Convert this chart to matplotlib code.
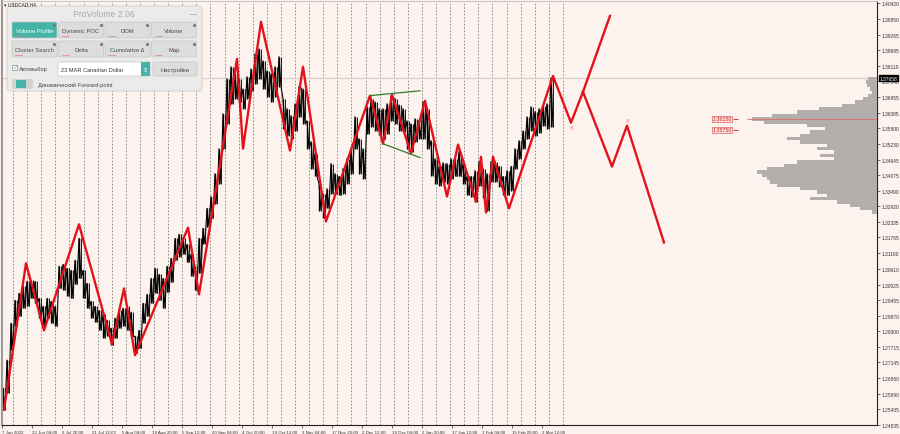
import numpy as np
import matplotlib.pyplot as plt
from matplotlib.patches import FancyBboxPatch
import matplotlib.transforms as mtransforms

plt.rcParams['font.family'] = ['Liberation Sans', 'DejaVu Sans']

# --------------------
# data (USDCAD H4)
# --------------------
price_ticks = [1.40420, 1.39850, 1.39265, 1.38695, 1.38110, 1.37540, 1.36955,
               1.36385, 1.35800, 1.35230, 1.34645, 1.34075, 1.33490, 1.32920,
               1.32335, 1.31765, 1.31180, 1.30610, 1.30025, 1.29455, 1.28870,
               1.28300, 1.27715, 1.27145, 1.26560, 1.25990, 1.25405, 1.24835]

date_labels = ["7 Jun 2022", "22 Jun 04:00", "6 Jul 20:00", "21 Jul 12:00",
               "5 Aug 04:00", "19 Aug 20:00", "5 Sep 12:00", "20 Sep 04:00",
               "4 Oct 20:00", "19 Oct 12:00", "3 Nov 04:00", "17 Nov 20:00",
               "2 Dec 12:00", "19 Dec 04:00", "2 Jan 20:00", "17 Jan 12:00",
               "1 Feb 04:00", "15 Feb 20:00", "2 Mar 12:00"]

bar_hi = [1.2619, 1.2723, 1.2859, 1.2944, 1.2970, 1.2996, 1.3014, 1.3018, 1.3014, 1.2951,
          1.2922, 1.2951, 1.2940, 1.2922, 1.3070, 1.3077, 1.3062, 1.3055, 1.3092, 1.3173,
          1.3055, 1.3007, 1.2940, 1.2922, 1.2907, 1.2892, 1.2870, 1.2841, 1.2878, 1.2907,
          1.2915, 1.2922, 1.2900, 1.2811, 1.2833, 1.2933, 1.2966, 1.3025, 1.3062, 1.3040,
          1.3025, 1.3070, 1.3099, 1.3173, 1.3188, 1.3173, 1.3151, 1.3114, 1.3070, 1.3173,
          1.3210, 1.3284, 1.3328, 1.3413, 1.3505, 1.3634, 1.3763, 1.3808, 1.3782, 1.3763,
          1.3726, 1.3771, 1.3800, 1.3856, 1.3874, 1.3830, 1.3793, 1.3782, 1.3808, 1.3845,
          1.3690, 1.3653, 1.3627, 1.3671, 1.3734, 1.3726, 1.3608, 1.3531, 1.3487, 1.3376,
          1.3339, 1.3357, 1.3450, 1.3413, 1.3402, 1.3431, 1.3468, 1.3505, 1.3623, 1.3542,
          1.3505, 1.3660, 1.3690, 1.3678, 1.3653, 1.3653, 1.3671, 1.3701, 1.3690, 1.3667,
          1.3653, 1.3608, 1.3597, 1.3616, 1.3608, 1.3678, 1.3653, 1.3535, 1.3468, 1.3439,
          1.3453, 1.3450, 1.3468, 1.3468, 1.3494, 1.3450, 1.3402, 1.3402, 1.3424, 1.3457,
          1.3431, 1.3413, 1.3457, 1.3457, 1.3439, 1.3402, 1.3424, 1.3439, 1.3505, 1.3535,
          1.3571, 1.3623, 1.3660, 1.3642, 1.3653, 1.3664, 1.3671, 1.3766]

bar_lo = [1.2538, 1.2601, 1.2760, 1.2848, 1.2885, 1.2915, 1.2922, 1.2951, 1.2933, 1.2878,
          1.2848, 1.2878, 1.2859, 1.2848, 1.2988, 1.2981, 1.2959, 1.2951, 1.3003, 1.3025,
          1.2951, 1.2915, 1.2878, 1.2863, 1.2833, 1.2804, 1.2811, 1.2778, 1.2804, 1.2841,
          1.2848, 1.2833, 1.2811, 1.2749, 1.2767, 1.2859, 1.2885, 1.2933, 1.2970, 1.2944,
          1.2915, 1.2974, 1.3011, 1.3092, 1.3106, 1.3114, 1.3084, 1.3033, 1.2981, 1.3044,
          1.3154, 1.3217, 1.3247, 1.3302, 1.3376, 1.3505, 1.3597, 1.3671, 1.3690, 1.3678,
          1.3653, 1.3690, 1.3719, 1.3745, 1.3763, 1.3726, 1.3697, 1.3678, 1.3697, 1.3734,
          1.3579, 1.3553, 1.3542, 1.3571, 1.3623, 1.3597, 1.3505, 1.3431, 1.3402, 1.3276,
          1.3247, 1.3284, 1.3339, 1.3339, 1.3332, 1.3339, 1.3376, 1.3413, 1.3505, 1.3413,
          1.3394, 1.3560, 1.3586, 1.3571, 1.3557, 1.3542, 1.3560, 1.3608, 1.3597, 1.3571,
          1.3568, 1.3505, 1.3494, 1.3531, 1.3542, 1.3542, 1.3505, 1.3405, 1.3376, 1.3368,
          1.3383, 1.3376, 1.3394, 1.3402, 1.3402, 1.3376, 1.3332, 1.3328, 1.3309, 1.3368,
          1.3321, 1.3276, 1.3383, 1.3383, 1.3365, 1.3332, 1.3332, 1.3350, 1.3431, 1.3468,
          1.3505, 1.3542, 1.3571, 1.3553, 1.3564, 1.3590, 1.3579, 1.3586]

# zigzag pivots (bar position, price)
zz_x = [2, 24, 42, 77, 110, 122, 133, 186, 197, 235, 241, 259, 288, 301, 324,
        368, 381, 390, 409, 423, 445, 456, 474, 479, 484, 491, 507, 551, 569, 581]
zz_p = [1.2540, 1.3081, 1.2833, 1.3225, 1.2782, 1.2988, 1.2741, 1.3213, 1.2966,
        1.3837, 1.3505, 1.3974, 1.3498, 1.3808, 1.3236, 1.3701, 1.3523, 1.3704,
        1.3487, 1.3682, 1.3328, 1.3520, 1.3309, 1.3475, 1.3269, 1.3475, 1.3284,
        1.3774, 1.3601, 1.3715]

# forecast branches
up_x = [581, 608]
up_p = [1.3715, 1.3996]
down_x = [581, 610, 625, 662]
down_p = [1.3715, 1.3439, 1.3590, 1.3158]

# green wedge
wedge_top_x = [368, 418]
wedge_top_p = [1.3701, 1.3719]
wedge_bot_x = [381, 418]
wedge_bot_p = [1.3523, 1.3472]

# volume profile
profile_levels = [1.3763, 1.3751, 1.3738, 1.3726, 1.3714, 1.3702, 1.3689, 1.3677,
                  1.3665, 1.3652, 1.3640, 1.3628, 1.3615, 1.3603, 1.3591, 1.3578,
                  1.3566, 1.3554, 1.3542, 1.3529, 1.3517, 1.3505, 1.3492, 1.3480,
                  1.3468, 1.3455, 1.3443, 1.3431, 1.3419, 1.3406, 1.3394, 1.3382,
                  1.3369, 1.3357, 1.3345, 1.3332, 1.3320, 1.3308, 1.3295, 1.3283, 1.3271]
profile_volume = [9, 11, 10, 7, 5, 9, 14, 22, 35, 58, 80, 105, 125, 113, 70, 52,
                  67, 77, 90, 77, 50, 60, 43, 57, 43, 80, 93, 110, 120, 115, 110,
                  107, 100, 77, 60, 50, 67, 40, 27, 17, 5]

poc_price = 1.36150
va_price = 1.35750
last_price = 1.37658

bg = '#fdf3ee'
red = '#e3121b'

# --------------------
# chart
# --------------------
fig = plt.figure(figsize=(9, 4.35), dpi=100, facecolor=bg)
ax = fig.add_axes([2/900, 9/435, 875/900, 424/435])
ax.set_facecolor(bg)
ax.set_xlim(0, 875)
ax.set_ylim(1.2483, 1.4051)

bar_x = np.arange(1, 550, 4)

# week separators
for wx in np.linspace(11, 561, 40):
    ax.axvline(wx, color='#7c7c7c', lw=0.6, ls=(0, (2, 2)), zorder=1)

ax.axhline(last_price, color='#d9cfca', lw=0.9, zorder=1)

# price bars: saw line between high and low of each bar + the bars themselves
saw_x = np.column_stack([bar_x, bar_x + 2]).ravel()
saw_y = np.column_stack([bar_hi, bar_lo]).ravel()
ax.plot(saw_x, saw_y, color='black', lw=0.8, zorder=2)
ax.vlines(bar_x, bar_lo, bar_hi, color='black', lw=1.0, zorder=2)
ax.vlines(bar_x + 2, bar_lo, bar_hi, color='#1a1a1a', lw=0.7, zorder=2)

ax.plot(zz_x, zz_p, color=red, lw=1.7, zorder=4)
ax.plot(up_x, up_p, color=red, lw=1.7, zorder=4)
ax.plot(down_x, down_p, color=red, lw=1.7, zorder=4)

ax.plot(wedge_top_x, wedge_top_p, color='#2f7d2a', lw=0.9, zorder=5)
ax.plot(wedge_bot_x, wedge_bot_p, color='#2f7d2a', lw=0.9, zorder=5)

ax.annotate('8', (zz_x[-2], zz_p[-2]), xytext=(0, -2), textcoords='offset points',
            ha='center', va='top', fontsize=4.5, color='#f08080')
ax.annotate('8', (down_x[2], down_p[2]), xytext=(0, 2), textcoords='offset points',
            ha='center', va='bottom', fontsize=4.5, color='#f08080')

# volume profile drawn from the right edge
axp = ax.twiny()
axp.set_xlim(875, 0)
axp.barh(profile_levels, profile_volume, height=0.00125, color='#b2aeac', lw=0, zorder=1)
axp.hlines(poc_price, 0, 130, color='#e06a6a', lw=0.6)
axp.set_axis_off()

for p in (poc_price, va_price):
    ax.text(720, p, f'{p:.5f}', ha='center', va='center', fontsize=3.8, color='#d42020',
            bbox=dict(fc='#fbe1dc', ec='#e06060', lw=0.5, pad=0.5), zorder=6)
    ax.hlines(p, 731, 736, color='#d42020', lw=0.6)

# axes, ticks
ax.yaxis.tick_right()
ax.set_yticks(price_ticks)
ax.set_yticklabels([f'{p:.5f}' for p in price_ticks])
ax.set_xticks(np.arange(0, 541, 30))
ax.set_xticklabels(date_labels, ha='left')
ax.tick_params(axis='y', labelsize=3.5, length=2, pad=1.5, width=0.5, colors='#333333')
ax.tick_params(axis='x', labelsize=3.2, length=2.5, pad=0.8, width=0.5, colors='#333333')
for s in ('right', 'bottom'):
    ax.spines[s].set_color('#222222')
    ax.spines[s].set_linewidth(0.8)
ax.spines['left'].set_color('#9a9a9a')
ax.spines['left'].set_linewidth(1.5)
ax.spines['top'].set_color('#c8c8c8')

tr = mtransforms.blended_transform_factory(ax.transAxes, ax.transData)
ax.text(1.003, last_price, f'{last_price:.5f}', transform=tr, ha='left', va='center',
        fontsize=3.5, color='white', bbox=dict(fc='black', ec='black', pad=0.6), zorder=7)

# --------------------
# ProVolume panel (screen overlay)
# --------------------
ui = fig.add_axes([0, 0, 1, 1])
ui.set_xlim(0, 900)
ui.set_ylim(435, 0)
ui.set_axis_off()

ui.text(4, 4.5, '▾ USDCAD,H4', fontsize=3.5, va='center', color='#222222')

ui.add_patch(FancyBboxPatch((7, 7), 195, 85, boxstyle='round,pad=0,rounding_size=3',
                            fc='#ebebeb', ec='#cfcfcf', lw=0.6, alpha=0.97))
ui.text(104, 14.5, 'ProVolume 2.06', ha='center', va='center', fontsize=6.2, color='#a9a9a9')
ui.text(193, 15, '—', ha='center', va='center', fontsize=5, color='#888888')


def button(x, y, w, h, label, active=False):
    fc = '#45b4a6' if active else '#dddddd'
    ui.add_patch(FancyBboxPatch((x, y), w, h, boxstyle='round,pad=0,rounding_size=1.5',
                                fc=fc, ec='#c6c6c6', lw=0.5))
    ui.text(x + w / 2, y + h * 0.55, label, ha='center', va='center', fontsize=4.2,
            color='white' if active else '#4a4a4a')


names = [["Volume Profile", "Dynamic POC", "DOM", "Volume"],
         ["Cluster Search", "Delta", "Cumulative Δ", "Map"]]
for r, row in enumerate(names):
    for c, name in enumerate(row):
        bx = 12 + c * 46.5
        by = 23 + r * 19
        button(bx, by, 45, 16, name, active=(r == 0 and c == 0))
        ui.plot(bx + 42, by + 2.5, 'o', ms=1.2, color='#777777')
        ui.plot([bx + 3, bx + 10], [by + 14, by + 14], color='#e08080', lw=0.5)

ui.add_patch(plt.Rectangle((12, 66), 5, 5, fc='white', ec='#888888', lw=0.5))
ui.text(14.5, 68, '✓', ha='center', va='center', fontsize=4.5, color='#45b4a6')
ui.text(19, 70, 'Автовыбор', va='center', fontsize=4.1, color='#444444')
ui.add_patch(FancyBboxPatch((58, 63), 92, 14, boxstyle='round,pad=0,rounding_size=1',
                            fc='white', ec='#c6c6c6', lw=0.5))
ui.text(61, 70.5, '23 MAR Canadian Dollar', va='center', fontsize=4.1, color='#333333')
ui.add_patch(plt.Rectangle((141, 63), 9, 14, fc='#45b4a6', ec='none'))
ui.text(145.5, 70, '⇕', ha='center', va='center', fontsize=4.5, color='white')
button(153, 63, 44, 14, 'Настройки')

ui.add_patch(FancyBboxPatch((12, 80), 21, 10, boxstyle='round,pad=0,rounding_size=1',
                            fc='#d2d2d2', ec='none'))
ui.add_patch(plt.Rectangle((16, 81), 10, 8, fc='#45b4a6', ec='none'))
ui.text(38, 85, 'Динамический Forward-point', va='center', fontsize=4.1, color='#444444')

fig.savefig('out.png', dpi=100, facecolor=bg)
